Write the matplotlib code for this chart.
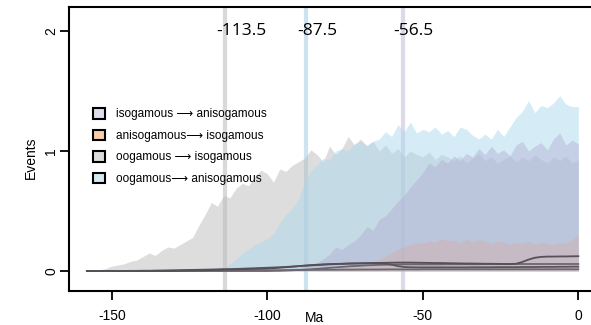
import numpy as np
import matplotlib.pyplot as plt
from matplotlib.patches import Patch

# time grid (Ma), step 2
ma = np.arange(-158, 1, 2)

# upper envelopes of the event-count bands
oo_iso = [0, 0, 0.01, 0.02, 0.04, 0.05, 0.06, 0.08, 0.09, 0.12,
          0.15, 0.13, 0.17, 0.2, 0.19, 0.22, 0.25, 0.28, 0.38, 0.47,
          0.57, 0.54, 0.63, 0.61, 0.69, 0.73, 0.71, 0.79, 0.84, 0.81,
          0.74, 0.85, 0.83, 0.88, 0.91, 0.94, 1.01, 0.97, 0.91, 1.04,
          0.97, 1.02, 1.12, 1.05, 1.1, 1.04, 1.08, 1.0, 1.05, 0.98,
          1.02, 0.95, 1.0, 0.97, 0.95, 0.99, 0.93, 0.97, 0.95, 0.92,
          0.96, 0.9, 0.94, 0.98, 0.92, 0.95, 0.9, 0.93, 0.96, 0.91,
          0.95, 0.92, 0.97, 0.93, 0.9, 0.95, 0.92, 0.96, 0.9, 0.93]
oo_aniso = [0, 0, 0, 0, 0, 0, 0, 0, 0.01, 0.01,
            0.01, 0.02, 0.01, 0.02, 0.02, 0.01, 0.02, 0.02, 0.02, 0.02,
            0.02, 0.02, 0.03, 0.06, 0.1, 0.15, 0.18, 0.22, 0.24, 0.27,
            0.31, 0.4, 0.47, 0.52, 0.6, 0.74, 0.84, 0.88, 0.94, 0.92,
            1.0, 1.02, 1.0, 1.06, 1.08, 1.05, 1.08, 1.1, 1.16, 1.12,
            1.22, 1.16, 1.24, 1.15, 1.18, 1.16, 1.2, 1.14, 1.17, 1.12,
            1.2, 1.18, 1.13, 1.1, 1.14, 1.1, 1.18, 1.12, 1.2, 1.28,
            1.33, 1.42, 1.32, 1.38, 1.36, 1.4, 1.46, 1.39, 1.37, 1.37]
iso_aniso = [0] * 32 + [
             0.01, 0.02, 0.03, 0.04, 0.05, 0.07, 0.1, 0.14,
             0.2, 0.18, 0.22, 0.25, 0.3, 0.37, 0.34, 0.43, 0.46, 0.52,
             0.58, 0.63, 0.7, 0.76, 0.82, 0.9, 0.87, 0.93, 0.9, 0.96,
             0.92, 0.98, 0.95, 1.02, 0.97, 1.04, 0.98, 1.01, 0.96, 1.05,
             1.08, 1.0, 1.04, 1.07, 1.01, 1.1, 1.15, 1.05, 1.09, 1.06]
aniso_iso = [0] * 38 + [
             0.01, 0.02, 0.02, 0.03, 0.04, 0.04, 0.05, 0.06, 0.08, 0.1,
             0.12, 0.15, 0.18, 0.2, 0.22, 0.24, 0.23, 0.25, 0.24, 0.27,
             0.25, 0.26, 0.23, 0.27, 0.24, 0.26, 0.25, 0.23, 0.25, 0.24,
             0.22, 0.24, 0.23, 0.25, 0.22, 0.24, 0.23, 0.22, 0.24, 0.23,
             0.26, 0.3]

# mean event counts
mean_a = [0] * 15 + [
          0.002, 0.003, 0.004, 0.005, 0.006, 0.008, 0.01, 0.012, 0.013, 0.014,
          0.015, 0.016, 0.017, 0.018, 0.02,
          0.023, 0.027, 0.031, 0.035, 0.04, 0.045, 0.049, 0.052, 0.055, 0.057,
          0.059, 0.06, 0.062, 0.063, 0.064, 0.065, 0.066, 0.067, 0.068, 0.069,
          0.07, 0.07, 0.07, 0.069, 0.068, 0.067, 0.066, 0.066, 0.065, 0.064,
          0.063, 0.062, 0.062, 0.061, 0.06, 0.06, 0.059, 0.058, 0.058, 0.06,
          0.075, 0.095, 0.11, 0.117, 0.12, 0.12, 0.121, 0.121, 0.122, 0.123]
mean_b = [0, 0, 0, 0, 0, 0, 0, 0.001, 0.001, 0.002,
          0.002, 0.003, 0.004, 0.005, 0.006, 0.007, 0.008, 0.009, 0.01, 0.011,
          0.012, 0.013, 0.014, 0.015, 0.017, 0.019, 0.021, 0.023, 0.025, 0.027,
          0.029, 0.031, 0.034, 0.037, 0.04, 0.043, 0.046, 0.049, 0.052, 0.055,
          0.057, 0.059, 0.061, 0.062, 0.063, 0.064, 0.065, 0.064, 0.062, 0.052,
          0.04, 0.033, 0.031, 0.03, 0.03, 0.03, 0.03, 0.03, 0.03, 0.03,
          0.03, 0.03, 0.031, 0.031, 0.031, 0.031, 0.032, 0.032, 0.032, 0.032,
          0.033, 0.033, 0.033, 0.034, 0.034, 0.034, 0.035, 0.035, 0.036, 0.036]
mean_c = [0] * 30 + [
          0.001, 0.002, 0.004, 0.006, 0.008, 0.011, 0.014, 0.018, 0.022, 0.026,
          0.03, 0.034, 0.038, 0.041, 0.044, 0.047, 0.049, 0.051, 0.052, 0.053,
          0.054, 0.055, 0.055, 0.055, 0.055, 0.055, 0.055, 0.055, 0.056, 0.056,
          0.056, 0.056, 0.056, 0.056, 0.057, 0.057, 0.057, 0.057, 0.057, 0.058,
          0.058, 0.058, 0.058, 0.058, 0.058, 0.058, 0.058, 0.058, 0.058, 0.058]
mean_d = [0] * 20 + [
          0.001, 0.001, 0.002, 0.002, 0.003, 0.003, 0.004, 0.004, 0.005, 0.005,
          0.006, 0.006, 0.007, 0.007, 0.008, 0.008, 0.009, 0.009, 0.01, 0.01,
          0.01, 0.011, 0.011, 0.011, 0.012, 0.012, 0.012, 0.012, 0.013, 0.013,
          0.013, 0.013, 0.013, 0.013, 0.014, 0.014, 0.014, 0.014, 0.014, 0.014,
          0.014, 0.014, 0.014, 0.014, 0.014, 0.014, 0.014, 0.014, 0.014, 0.014,
          0.014, 0.014, 0.014, 0.014, 0.014, 0.014, 0.014, 0.014, 0.014, 0.014]

vline_ma = [-113.5, -87.5, -56.5]
vline_col = ['#d9d9d9', '#cde3ef', '#ddd9e9']

labels = ['isogamous \u27f6 anisogamous', 'anisogamous\u27f6 isogamous',
          'oogamous \u27f6 isogamous', 'oogamous\u27f6 anisogamous']
leg_cols = ['#e2dcee', '#f9cdaa', '#dcdcdc', '#d4e8f2']

plt.rcParams['font.family'] = ['Liberation Sans', 'DejaVu Sans']

fig = plt.figure(figsize=(5.91, 3.25), dpi=100)
ax = fig.add_axes([69 / 591, 34 / 325, 528 / 591, 284 / 325])

for v, c in zip(vline_ma, vline_col):
    ax.axvline(v, color=c, lw=3, zorder=1)

ax.fill_between(ma, 0, oo_iso, color='#bdbdbd', alpha=0.5, lw=0, zorder=2)
ax.fill_between(ma, 0, oo_aniso, color='#add8ed', alpha=0.5, lw=0, zorder=3)
ax.fill_between(ma, 0, iso_aniso, color='#b0acd4', alpha=0.42, lw=0, zorder=4)
ax.fill_between(ma, 0, aniso_iso, color='#dca796', alpha=0.35, lw=0, zorder=5)

for m, c in zip([mean_d, mean_c, mean_b, mean_a],
                ['#6a6a6a', '#6e6570', '#5a555c', '#555058']):
    ax.plot(ma, m, color=c, lw=1.3, zorder=6)

for v in vline_ma:
    ax.text(v - 3, 2.0, f'{v}', fontsize=12.5, family=['Open Sans', 'DejaVu Sans'],
            ha='left', va='center', zorder=7)

ax.set_xlim(-163.75, 6)
ax.set_ylim(-0.167, 2.2)
ax.set_xticks([-150, -100, -50, 0])
ax.set_xticklabels(['-150', '-100', '-50', '0'])
ax.set_yticks([0, 1, 2])
ax.tick_params(axis='both', direction='out', length=6.3, width=1.3, labelsize=10)
ax.tick_params(axis='x', pad=7)
ax.tick_params(axis='y', pad=1.5)
for lab in ax.get_yticklabels():
    lab.set_rotation(90)
    lab.set_va('center')
for s in ax.spines.values():
    s.set_linewidth(1.5)

fig.text(31 / 591, 1 - 158 / 325, 'Events', rotation=90, ha='center', va='center', fontsize=10)
fig.text(315 / 591, 1 - 318 / 325, 'Ma', ha='center', va='center', fontsize=10)

handles = [Patch(facecolor=c, edgecolor='black', lw=1.5) for c in leg_cols]
ax.legend(handles, labels, loc='upper left', bbox_to_anchor=(93 / 591, 1 - 108 / 325),
          bbox_transform=fig.transFigure, frameon=False, fontsize=8.5,
          handlelength=1.0, handleheight=1.0, handletextpad=0.95, labelspacing=0.78,
          borderpad=0, borderaxespad=0)

fig.savefig('out.png', dpi=100)
